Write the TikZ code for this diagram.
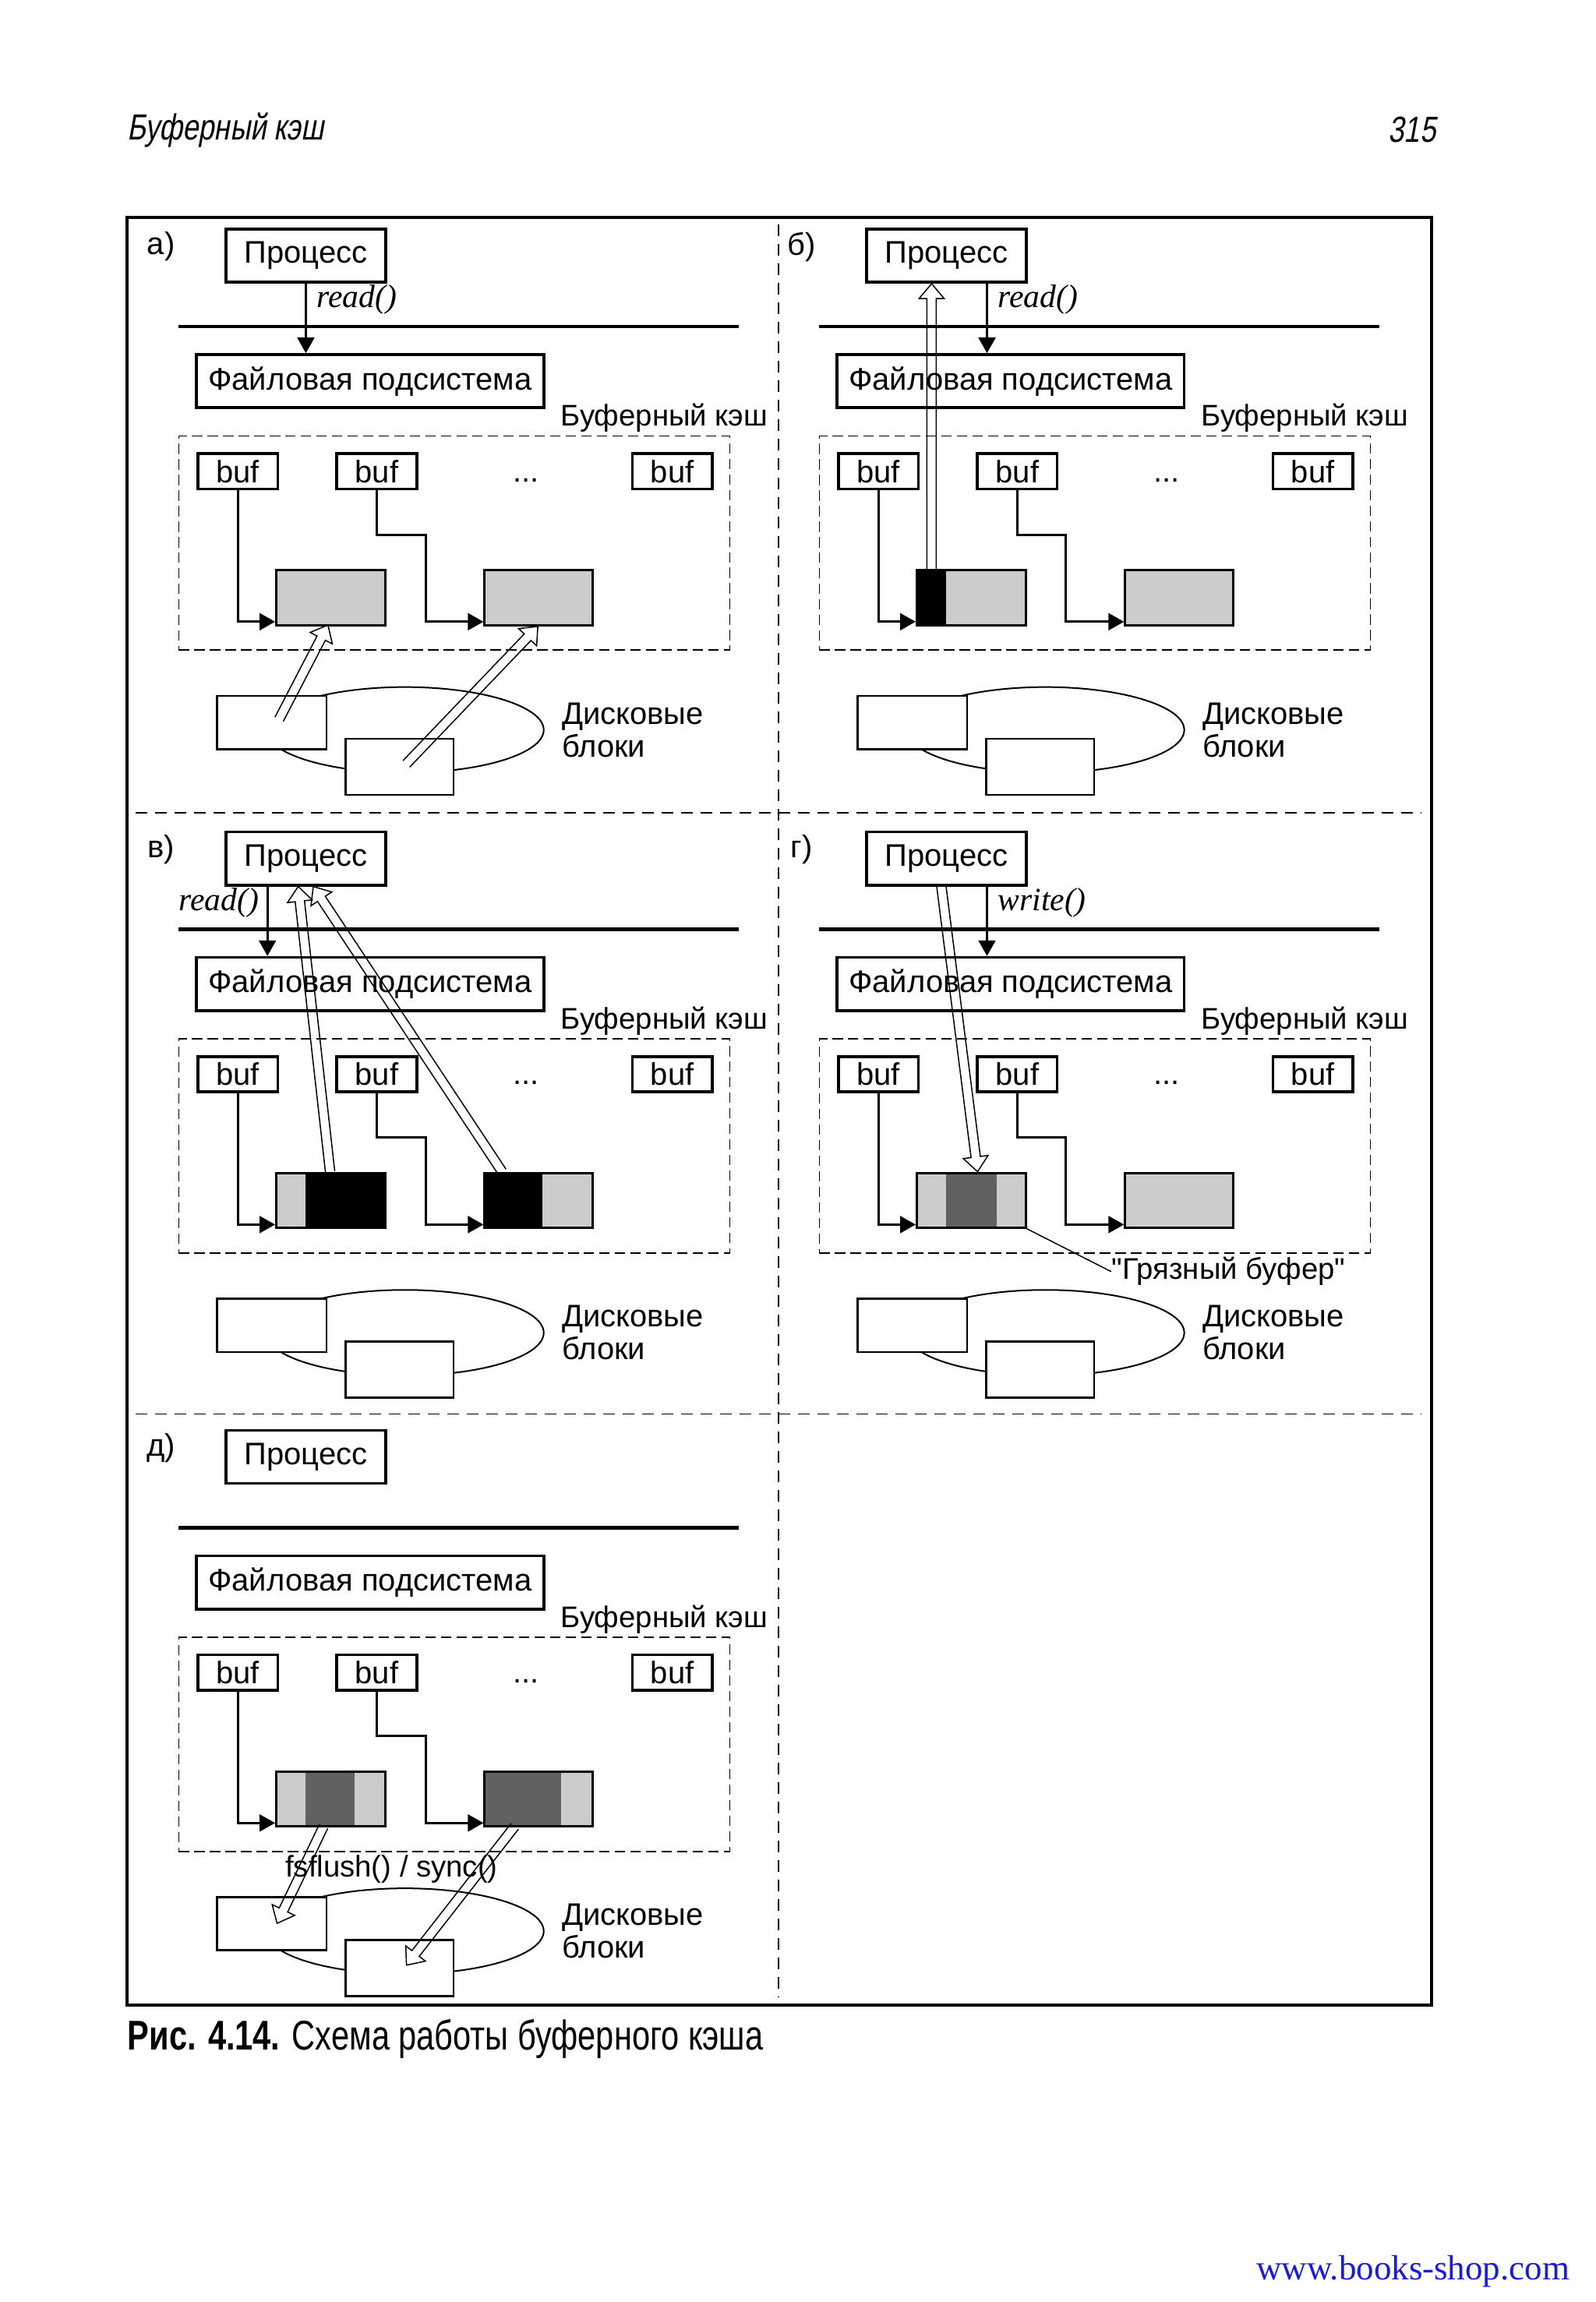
\documentclass[tikz,border=0pt]{standalone}
\usepackage{fontspec}
\setmainfont{Liberation Sans}
\newfontfamily\seriff{Liberation Serif}
\newfontfamily\rawsans[Ligatures=TeXOff]{Liberation Sans}
\newfontfamily\condf[FakeStretch=0.78]{Liberation Sans}
\newfontfamily\condit[FakeStretch=0.78,FakeSlant=0.18]{Liberation Sans}
\usetikzlibrary{arrows.meta,calc,shapes.geometric}
\definecolor{urlblue}{RGB}{25,25,225}
\tikzset{
  box/.style={draw, line width=1.1pt, inner sep=0pt, font=\fontsize{12}{14}\selectfont},
  procbox/.style={box, minimum width=2.16cm, minimum height=0.72cm},
  fsbox/.style={box, minimum width=4.70cm, minimum height=0.72cm},
  bufbox/.style={box, minimum width=1.08cm, minimum height=0.48cm},
  blkbox/.style={draw, line width=0.9pt, minimum width=1.48cm, minimum height=0.74cm, inner sep=0pt},
  diskrect/.style={draw, line width=0.8pt, fill=white, inner sep=0pt, minimum width=1.48cm, minimum height=0.72cm},
  diskell/.style={ellipse, draw, line width=0.6pt, minimum width=3.76cm, minimum height=1.16cm, inner sep=0pt},
  txt/.style={inner sep=0pt, font=\fontsize{12}{14}\selectfont},
  smalltxt/.style={inner sep=0pt, font=\rawsans\fontsize{11.5}{13}\selectfont},
  fn/.style={inner sep=0pt, font=\seriff\itshape\fontsize{12.5}{14}\selectfont},
  cachebox/.style={draw, line width=0.5pt, dash pattern=on 4pt off 2pt, inner sep=0pt},
  kernline/.style={line width=1.3pt},
  conn/.style={line width=0.9pt, -{Triangle[length=6pt,width=6.5pt]}},
  hollowline/.style={line width=0.45pt},
  divider/.style={line width=0.5pt, dash pattern=on 4.5pt off 3pt},
  leader/.style={line width=0.45pt},
  light/.style={fill=black!20},
  dark/.style={fill=black!62},
}
\newcommand\hollowarrow[2]{%
  \coordinate (hb) at ($(#2)!5.7pt!(#1)$);
  \draw[hollowline] ($(#1)!1.8pt!90:(#2)$) -- ($(hb)!1.8pt!90:(#2)$) -- ($(hb)!4.8pt!90:(#2)$) -- (#2) -- ($(hb)!4.8pt!-90:(#2)$) -- ($(hb)!1.8pt!-90:(#2)$) -- ($(#1)!1.8pt!-90:(#2)$);
}
\newcommand\panel[5]{%
\begin{scope}[shift={(#1,#2)}]
  #5
  \node[txt] (lab#3) at (109,167) {#4};
  \node[procbox] (proc#3) at (207,173) {Процесс};
  \coordinate (hla#3) at (121,221);
  \coordinate (hlb#3) at (500,221);
  \draw[kernline] (hla#3) -- (hlb#3);
  \node[fsbox] (fs#3) at (250.5,258) {Файловая подсистема};
  \node[smalltxt, anchor=east] (cl#3) at (520,283) {Буферный кэш};
  \node[cachebox, minimum width=7.46cm, minimum height=2.9cm] (cache#3) at (307.5,367.5) {};
  \node[bufbox] (bufa#3) at (161,319) {buf};
  \node[bufbox] (bufb#3) at (255,319) {buf};
  \node[bufbox] (bufc#3) at (455,319) {buf};
  \node[txt] (dots#3) at (356,325) {...};
  \node[blkbox] (blka#3) at (224,404.5) {};
  \node[blkbox, minimum width=1.46cm] (blkb#3) at (364.5,404.5) {};
  \draw[conn] (bufa#3.south) |- ([yshift=0.06cm]blka#3.south west);
  \coordinate (knee#3) at (288,362);
  \draw[conn] (bufb#3.south) |- (knee#3) |- ([yshift=0.06cm]blkb#3.south west);
  \node[diskell] (disk#3) at (274,494) {};
  \node[diskrect] (ra#3) at (184,489) {};
  \node[diskrect, minimum width=1.46cm, minimum height=0.76cm] (rb#3) at (270.5,519) {};
  \node[txt, anchor=west, align=left, font=\fontsize{12}{12.5}\selectfont] (dl#3) at (380,494) {Дисковые\\блоки};
\end{scope}}
\begin{document}
\begin{tikzpicture}[x=0.02cm, y=-0.02cm]
\fill[white] (0,0) rectangle (1080,1558);
\useasboundingbox (0,0) rectangle (1080,1558);
% page header, frame, dividers
\node[anchor=west, inner sep=0pt, font=\condit\fontsize{14}{16}\selectfont] (hdr) at (86,88) {Буферный кэш};
\node[anchor=east, inner sep=0pt, font=\condit\fontsize{14}{16}\selectfont] (pg) at (972,88) {315};
\draw[line width=1.2pt] (86,147) rectangle (969,1357);
\draw[divider] (527,152) -- (527,1352);
\draw[divider] (92,550) -- (962,550);
\draw[divider] (92,957) -- (962,957);
% panel a
\panel{0}{0}{A}{а)}{\fill[light] (187,386) rectangle (261,423); \fill[light] (328,386) rectangle (401,423);}
\coordinate (xA) at (207,0);
\draw[conn] (procA.south -| xA) -- (fsA.north -| xA);
\node[fn, anchor=west] (rdA) at (214,203) {read()};
\coordinate (taA) at (188.9,486.8); \coordinate (haA) at (222,423);
\coordinate (tbA) at (275,517); \coordinate (hbA) at (364,424);
\hollowarrow{taA}{haA}
\hollowarrow{tbA}{hbA}
% panel b
\panel{433.5}{0}{B}{б)}{\fill[black] (187,386) rectangle (207,423); \fill[light] (207,386) rectangle (261,423); \fill[light] (328,386) rectangle (401,423);}
\coordinate (xB) at (668,0);
\draw[conn] (procB.south -| xB) -- (fsB.north -| xB);
\node[fn, anchor=west] (rdB) at (675,203) {read()};
\coordinate (taB) at (630.5,386); \coordinate (haB) at (630.5,192);
\hollowarrow{taB}{haB}
% panel v
\panel{0}{408}{C}{в)}{\fill[light] (187,386) rectangle (207,423); \fill[black] (207,386) rectangle (261,423); \fill[black] (328,386) rectangle (367,423); \fill[light] (367,386) rectangle (401,423);}
\coordinate (xC) at (181,0);
\draw[conn] (procC.south -| xC) -- (fsC.north -| xC);
\node[fn] (rdC) at (148,611) {read()};
\coordinate (taC) at (223.4,793); \coordinate (haC) at (201.8,600);
\coordinate (tbC) at (339.8,793); \coordinate (hbC) at (212,600);
\hollowarrow{taC}{haC}
\hollowarrow{tbC}{hbC}
% panel g
\panel{433.5}{408}{D}{г)}{\fill[light] (187,386) rectangle (207,423); \fill[dark] (207,386) rectangle (241,423); \fill[light] (241,386) rectangle (261,423); \fill[light] (328,386) rectangle (401,423);}
\coordinate (xD) at (668,0);
\draw[conn] (procD.south -| xD) -- (fsD.north -| xD);
\node[fn, anchor=west] (rdD) at (675,611) {write()};
\coordinate (taD) at (637,599); \coordinate (haD) at (661.6,793);
\hollowarrow{taD}{haD}
\coordinate (ldD) at (692.4,830.3);
\node[smalltxt, anchor=west] (dirty) at (752,860.6) {"Грязный буфер"};
\draw[leader] (ldD) -- (dirty.west);
% panel d
\panel{0}{813}{E}{д)}{\fill[light] (187,386) rectangle (207,423); \fill[dark] (207,386) rectangle (240,423); \fill[light] (240,386) rectangle (261,423); \fill[dark] (328,386) rectangle (380,423); \fill[light] (380,386) rectangle (401,423);}
\coordinate (taE) at (219,1236); \coordinate (haE) at (187.5,1301.7);
\coordinate (tbE) at (348.4,1236); \coordinate (hbE) at (275.1,1330);
\hollowarrow{taE}{haE}
\hollowarrow{tbE}{hbE}
\node[smalltxt] (sync) at (265,1265) {fsflush() / sync()};
% caption and footer
\node[anchor=west, inner sep=0pt, font=\condf\fontsize{16}{18}\selectfont] (cap) at (86,1380) {\textbf{Рис. 4.14.} Схема работы буферного кэша};
\node[anchor=west, inner sep=0pt, font=\seriff\fontsize{13.5}{16}\selectfont, text=urlblue] (url) at (850,1537) {www.books-shop.com};
\end{tikzpicture}
\end{document}
